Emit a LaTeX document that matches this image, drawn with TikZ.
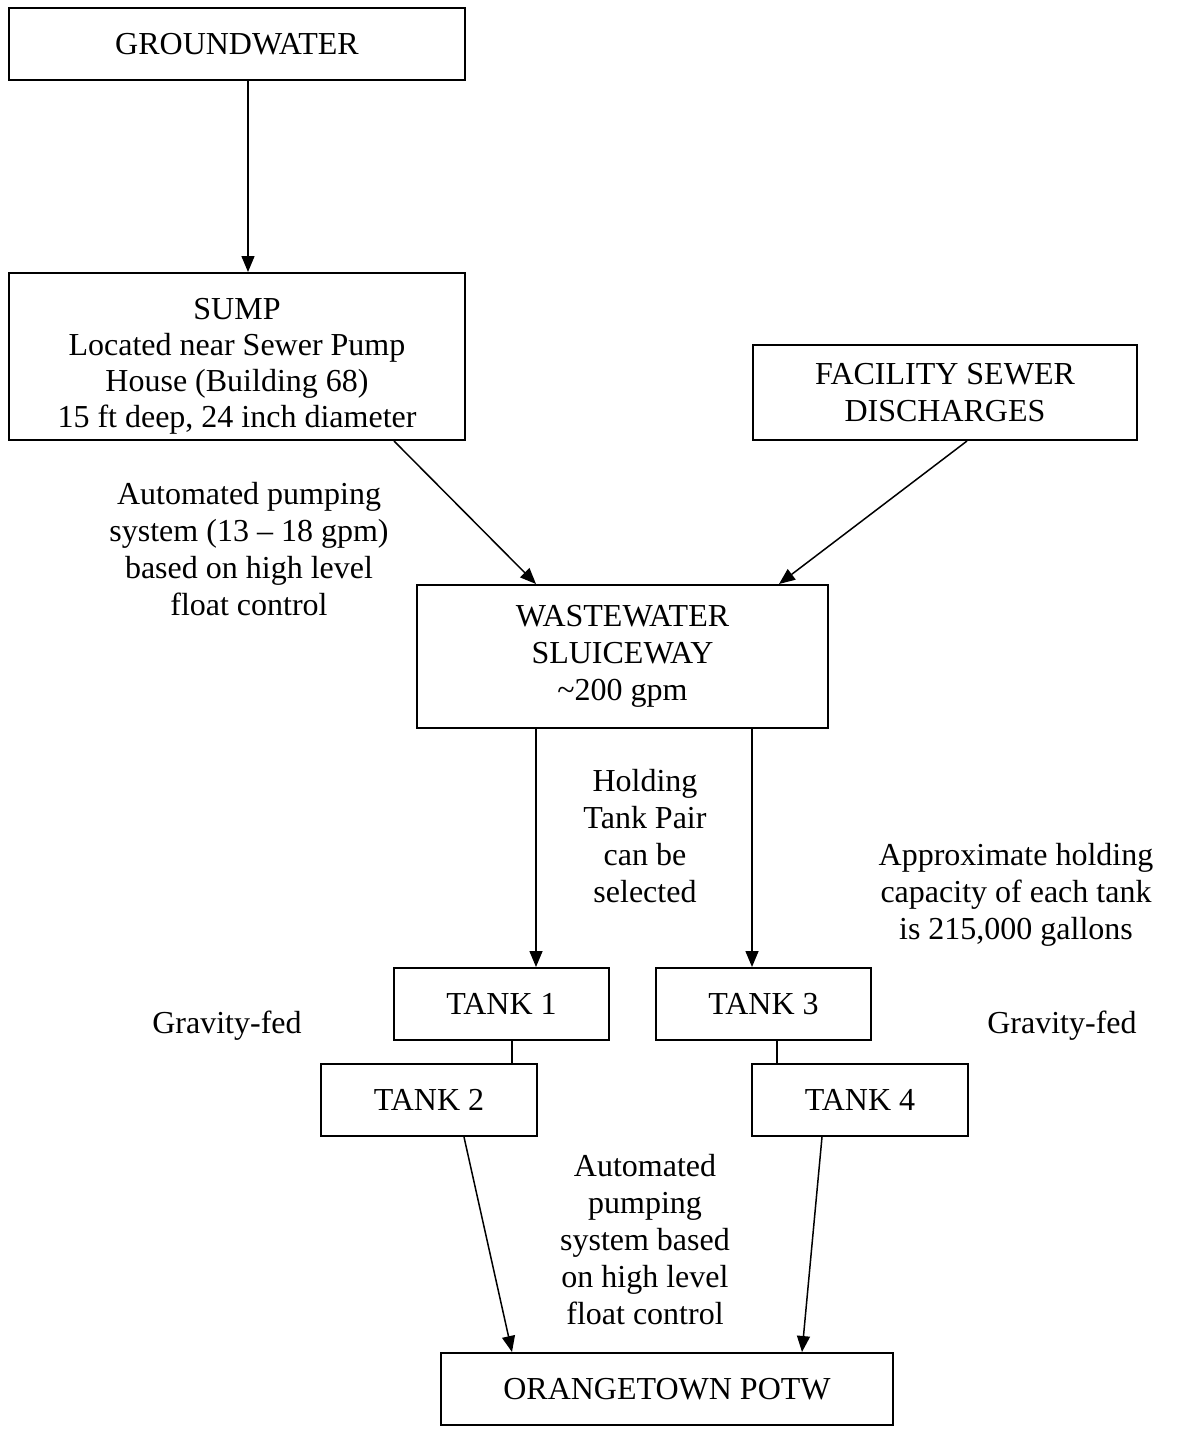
\documentclass[tikz,border=0pt]{standalone}
\usepackage{fontspec}
\setmainfont{Liberation Serif}
\usetikzlibrary{arrows.meta}
\begin{document}
\begin{tikzpicture}[x=1pt,y=-1pt,
  box/.style={draw,line width=2pt,inner sep=0pt,align=center,font=\fontsize{32}{37}\selectfont},
  lbl/.style={inner sep=0pt,align=center,font=\fontsize{32}{37}\selectfont},
  arr/.style={line width=1.5pt,-{Triangle[length=16pt,width=13pt]}},
  ln/.style={line width=1.5pt}]
\useasboundingbox (0,0) rectangle (1187,1433);
% boxes
\node[box,minimum width=456,minimum height=72] (gw) at (237,44) {GROUNDWATER};
\node[box,minimum width=456,minimum height=167,font=\fontsize{32}{36}\selectfont] (sump) at (237,356.5) {\rule{0pt}{40pt}SUMP\\Located near Sewer Pump\\House (Building 68)\\15 ft deep, 24 inch diameter};
\node[box,minimum width=384,minimum height=95] (fac) at (945,392.5) {FACILITY SEWER\\DISCHARGES};
\node[box,minimum width=411,minimum height=143] (sw) at (622.5,656.5) {WASTEWATER\\SLUICEWAY\\\textasciitilde200 gpm};
\node[box,minimum width=215,minimum height=72] (t1) at (501.5,1004) {TANK 1};
\node[box,minimum width=215,minimum height=72] (t3) at (763.5,1004) {TANK 3};
\node[box,minimum width=216,minimum height=72] (t2) at (429,1100) {TANK 2};
\node[box,minimum width=216,minimum height=72] (t4) at (860,1100) {TANK 4};
\node[box,minimum width=452,minimum height=72] (potw) at (667,1389) {ORANGETOWN POTW};
% labels
\node[lbl] (l1) at (249,549) {Automated pumping\\system (13 -- 18 gpm)\\based on high level\\float control};
\node[lbl] (l2) at (645,836) {Holding\\Tank Pair\\can be\\selected};
\node[lbl] (l3) at (1016,895) {Approximate holding\\capacity of each tank\\is 215,000 gallons};
\node[lbl] (l4) at (227,1026) {Gravity-fed};
\node[lbl] (l5) at (1062,1026) {Gravity-fed};
\node[lbl] (l6) at (645,1240) {Automated\\pumping\\system based\\on high level\\float control};
% connectors
\draw[arr] ([xshift=11pt]gw.south) -- ([xshift=11pt]sump.north);
\draw[arr] ([xshift=-72pt]sump.south east) -- ([xshift=120pt]sw.north west);
\draw[arr] ([xshift=215pt]fac.south west) -- ([xshift=-50pt]sw.north east);
\draw[arr] ([xshift=120pt]sw.south west) coordinate (a1) -- (a1 |- t1.north);
\draw[arr] ([xshift=336pt]sw.south west) coordinate (a3) -- (a3 |- t3.north);
\draw[ln] ([xshift=119pt]t1.south west) coordinate (b1) -- (b1 |- t2.north);
\draw[ln] ([xshift=122pt]t3.south west) coordinate (b3) -- (b3 |- t4.north);
\draw[arr] ([xshift=144pt]t2.south west) -- ([xshift=72pt]potw.north west);
\draw[arr] ([xshift=71pt]t4.south west) -- ([xshift=-92pt]potw.north east);
\end{tikzpicture}
\end{document}
